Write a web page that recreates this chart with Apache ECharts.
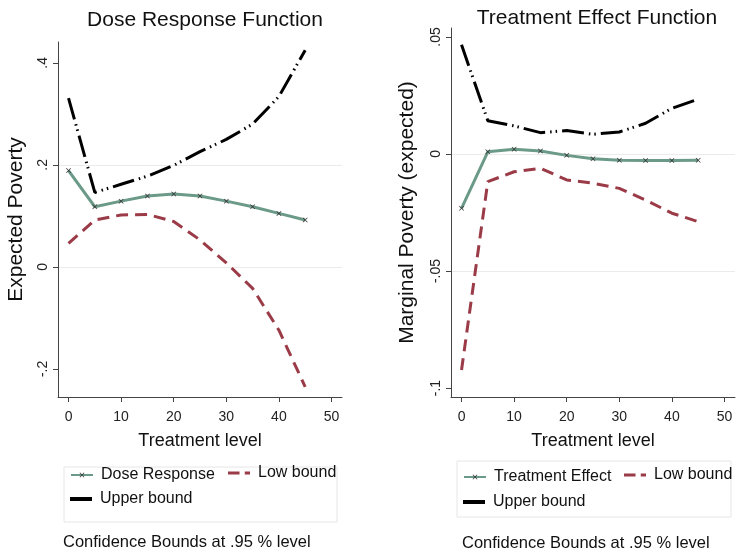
<!DOCTYPE html>
<html>
<head>
<meta charset="utf-8">
<script src="https://cdn.jsdelivr.net/npm/echarts@6/dist/echarts.min.js"></script>
<style>
html, body { margin: 0; padding: 0; background: #fff; }
#main { width: 738px; height: 555px; }
</style>
</head>
<body>
<div id="main"></div>
<script>
// treatment levels (x)
var treatment = [0, 5, 10, 15, 20, 25, 30, 35, 40, 45];

// left panel: dose response
var doseResponse = [0.189, 0.118, 0.129, 0.139, 0.143, 0.139, 0.129, 0.118, 0.105, 0.092];
var doseLow = [0.046, 0.092, 0.102, 0.103, 0.089, 0.053, 0.008, -0.042, -0.124, -0.235];
var doseUpper = [0.331, 0.146, 0.162, 0.178, 0.199, 0.226, 0.250, 0.280, 0.334, 0.425];

// right panel: treatment effect
var effect = [-0.0232, 0.0009, 0.0020, 0.0013, -0.0006, -0.0020, -0.0027, -0.0028, -0.0028, -0.0027];
var effectLow = [-0.0923, -0.0118, -0.0076, -0.0061, -0.0111, -0.0125, -0.0147, -0.0197, -0.0253, -0.0289];
var effectUpper = [0.0466, 0.0142, 0.0120, 0.0091, 0.0100, 0.0084, 0.0094, 0.0131, 0.0195, 0.0234];

// tick labels
var xTicks = [0, 10, 20, 30, 40, 50];
var doseTicks = [-0.2, 0, 0.2, 0.4];
var effectTicks = [-0.1, -0.05, 0, 0.05];

var green = '#6b9a88';
var red = '#9b3b47';
var font = 'Liberation Sans, Arial, sans-serif';
var xMark = 'path://M0,1L1,0L5,4L9,0L10,1L6,5L10,9L9,10L5,6L1,10L0,9L4,5Z';
var lowIcon = 'path://M0,0H11V3H0ZM16,0H21V3H16Z';

function pairs(ys) {
  return treatment.map(function (t, i) { return [t, ys[i]]; });
}

function stataLabel(v) {
  var s = String(Math.round(v * 1000) / 1000);
  return s.replace('0.', '.');
}

function xAxis(idx) {
  return {
    type: 'value', gridIndex: idx, min: -2, max: 52,
    name: 'Treatment level', nameLocation: 'middle', nameGap: 35,
    nameTextStyle: { fontFamily: font, fontSize: 18, color: '#111' },
    axisLine: { show: true, onZero: false, lineStyle: { color: '#444' } },
    axisTick: { show: true, length: 5, customValues: xTicks, lineStyle: { color: '#444' } },
    axisLabel: { customValues: xTicks, fontFamily: font, fontSize: 14, color: '#222', margin: 13 },
    splitLine: { show: false }
  };
}

function yAxis(idx, min, max, ticks, name, gap) {
  return {
    type: 'value', gridIndex: idx, min: min, max: max, splitNumber: 3,
    name: name, nameLocation: 'middle', nameGap: gap,
    nameTextStyle: { fontFamily: font, fontSize: 21, color: '#111' },
    axisLine: { show: true, onZero: false, lineStyle: { color: '#444' } },
    axisTick: { show: true, length: 5, customValues: ticks, lineStyle: { color: '#444' } },
    axisLabel: {
      customValues: ticks, rotate: 90, fontFamily: font, fontSize: 14, color: '#222', margin: 8,
      formatter: stataLabel
    },
    splitLine: { show: true, showMinLine: false, showMaxLine: false, lineStyle: { color: '#ebebeb', width: 1 } }
  };
}

function mainLine(name, ys, idx) {
  return {
    name: name, type: 'line', xAxisIndex: idx, yAxisIndex: idx, data: pairs(ys),
    symbol: xMark, symbolSize: 5, z: 4,
    lineStyle: { color: green, width: 3 },
    itemStyle: { color: '#333' }
  };
}

function lowLine(ys, idx) {
  return {
    name: 'Low bound', type: 'line', xAxisIndex: idx, yAxisIndex: idx, data: pairs(ys),
    symbol: 'none',
    lineStyle: { color: red, width: 3, type: [12, 7] },
    itemStyle: { color: red }
  };
}

function upperLine(ys, idx) {
  return {
    name: 'Upper bound', type: 'line', xAxisIndex: idx, yAxisIndex: idx, data: pairs(ys),
    symbol: 'none',
    lineStyle: { color: '#000', width: 3, type: [22, 5, 1.5, 4, 1.5, 5] },
    itemStyle: { color: '#000' }
  };
}

function legendItem(name, left, top, opts) {
  var l = {
    data: [name], left: left, top: top, padding: 0, itemWidth: 22, itemHeight: 6,
    selectedMode: false, symbolKeepAspect: false,
    itemStyle: { borderWidth: 0 },
    textStyle: { fontFamily: font, fontSize: 16, color: '#111', padding: [0, 0, 0, 3] }
  };
  for (var k in opts) l[k] = opts[k];
  return l;
}

var myChart = echarts.init(document.getElementById('main'));
var option;

option = {
  animation: false,
  backgroundColor: '#fff',
  title: [
    { text: 'Dose Response Function', left: 200, top: 5, textAlign: 'center',
      textStyle: { fontFamily: font, fontSize: 21, fontWeight: 'normal', color: '#111' } },
    { text: 'Treatment Effect Function', left: 592, top: 3, textAlign: 'center',
      textStyle: { fontFamily: font, fontSize: 21, fontWeight: 'normal', color: '#111' } }
  ],
  grid: [
    { left: 58, top: 42, width: 284, height: 355 },
    { left: 451, top: 28, width: 284, height: 369 }
  ],
  xAxis: [xAxis(0), xAxis(1)],
  yAxis: [
    yAxis(0, -0.255, 0.441, doseTicks, 'Expected Poverty', 31),
    yAxis(1, -0.1038, 0.0538, effectTicks, 'Marginal Poverty (expected)', 33)
  ],
  legend: [
    legendItem('Dose Response', 70, 467, {}),
    legendItem('Low bound', 228, 465, { itemHeight: 3, data: [{ name: 'Low bound', icon: lowIcon }] }),
    legendItem('Upper bound', 70, 491, { itemHeight: 4, data: [{ name: 'Upper bound', icon: 'rect' }] }),
    legendItem('Treatment Effect', 463, 469, {}),
    legendItem('Low bound', 624, 467, { itemHeight: 3, data: [{ name: 'Low bound', icon: lowIcon }] }),
    legendItem('Upper bound', 463, 494, { itemHeight: 4, data: [{ name: 'Upper bound', icon: 'rect' }] })
  ],
  graphic: [
    { type: 'rect', shape: { x: 64, y: 467, width: 273, height: 55 }, z: -1,
      style: { fill: '#fff', stroke: '#e6e6e6', lineWidth: 1 } },
    { type: 'rect', shape: { x: 457, y: 461, width: 274, height: 56 }, z: -1,
      style: { fill: '#fff', stroke: '#e6e6e6', lineWidth: 1 } },
    { type: 'text', left: 63, top: 534,
      style: { text: 'Confidence Bounds at .95 % level', font: '16.5px ' + font, fill: '#111' } },
    { type: 'text', left: 462, top: 535,
      style: { text: 'Confidence Bounds at .95 % level', font: '16.5px ' + font, fill: '#111' } }
  ],
  series: [
    mainLine('Dose Response', doseResponse, 0),
    lowLine(doseLow, 0),
    upperLine(doseUpper, 0),
    mainLine('Treatment Effect', effect, 1),
    lowLine(effectLow, 1),
    upperLine(effectUpper, 1)
  ]
};

option && myChart.setOption(option);
window.onresize = myChart.resize;
</script>
</body>
</html>
